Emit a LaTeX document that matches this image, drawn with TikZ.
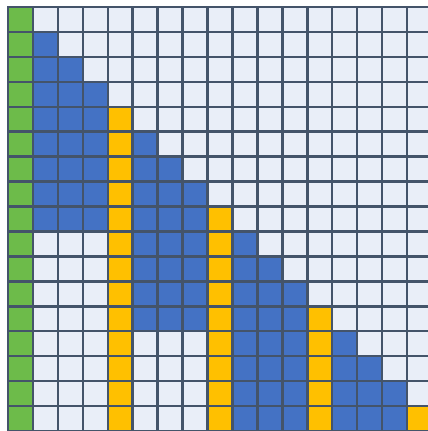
\documentclass[tikz,border=0pt]{standalone}

\definecolor{cellbg}{HTML}{E9EEF8}
\definecolor{cellgreen}{HTML}{6DBB4A}
\definecolor{cellblue}{HTML}{4472C4}
\definecolor{cellyellow}{HTML}{FFC000}
\definecolor{gridcol}{HTML}{44546A}

\begin{document}
\begin{tikzpicture}[x=0.5cm,y=-0.5cm,line cap=rect,line join=miter]

\tikzset{gridlines/.style={gridcol,line width=1.4pt,step=0.5cm}}

\useasboundingbox (-0.321,-0.281) rectangle (16.8,17);

\begin{scope}
    % empty cells
    \fill[cellbg] (0,0) rectangle (17,17);
    % first column
    \fill[cellgreen] (0,0) rectangle (1,17);
    % lower triangles, one per block of three columns
    \foreach \c/\last in {1/8,2/8,3/8,5/12,6/12,7/12,9/16,10/16,11/16,13/16,14/16,15/16} {
        \fill[cellblue] (\c,\c) rectangle (\c+1,\last+1);
    }
    % every fourth column
    \foreach \c in {4,8,12,16} {
        \fill[cellyellow] (\c,\c) rectangle (\c+1,17);
    }
    \draw[gridlines] (0,0) grid (17,17);
\end{scope}

\end{tikzpicture}
\end{document}
